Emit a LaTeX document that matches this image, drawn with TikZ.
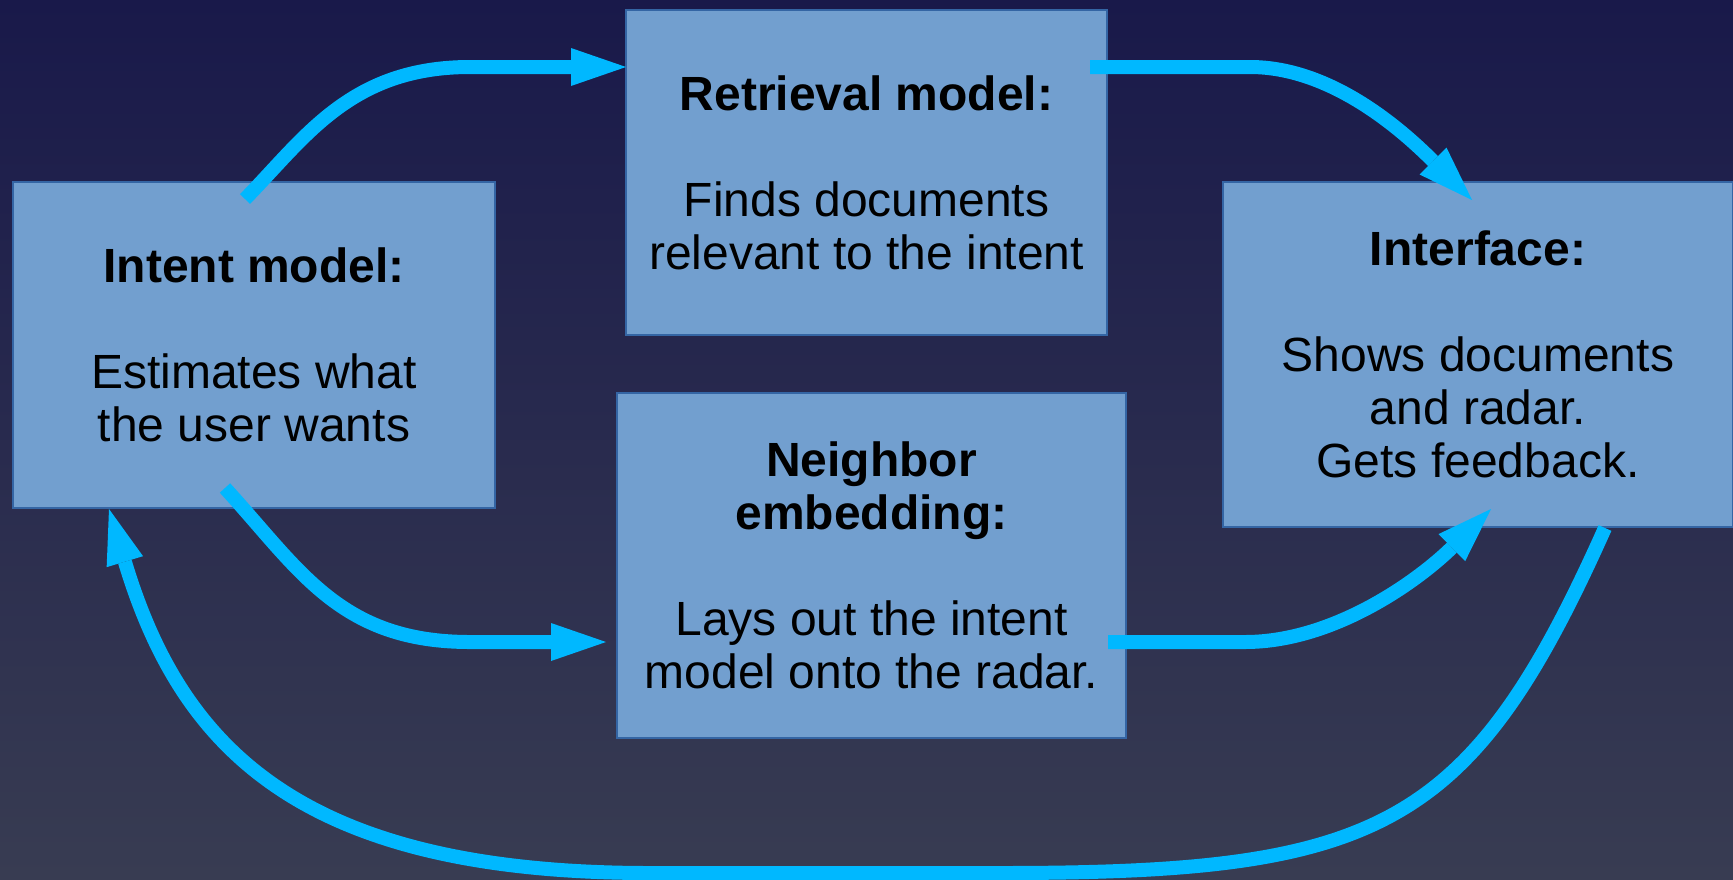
\documentclass[tikz,border=0pt]{standalone}
\usepackage{fontspec}
\setmainfont{Liberation Sans}
\usetikzlibrary{arrows.meta,calc}

\definecolor{skytop}{RGB}{25,25,74}
\definecolor{skybottom}{RGB}{56,60,82}
\definecolor{panelfill}{RGB}{114,159,207}
\definecolor{paneledge}{RGB}{52,101,164}
\definecolor{flow}{RGB}{0,184,255}

\tikzset{
  panel/.style={draw=paneledge, line width=0.8pt, fill=panelfill,
    inner sep=0pt, outer sep=0pt, align=center,
    font=\fontsize{24}{26.5}\selectfont},
  flowarrow/.style={draw=flow, line width=7pt,
    -{Triangle[length=27.5pt, width=19pt, line width=0pt]}}
}

\begin{document}
\begin{tikzpicture}[x=0.5pt, y=-0.5pt]
  % canvas with a vertical gradient
  \useasboundingbox (0,0) rectangle (1733,879);
  \shade[top color=skytop, bottom color=skybottom] (0,0) rectangle (1733,879);

  % the four stages
  \node[panel, minimum width=241pt, minimum height=163pt] (intent) at (254,345)
    {\textbf{Intent model:}\\[26.5pt]Estimates what\\the user wants};
  \node[panel, minimum width=240.5pt, minimum height=162.5pt] (retrieval) at (866.5,172.5)
    {\textbf{Retrieval model:}\\[26.5pt]Finds documents\\relevant to the intent};
  \node[panel, minimum width=254.5pt, minimum height=172.5pt] (neighbor) at (871.5,565.5)
    {\textbf{Neighbor}\\\textbf{embedding:}\\[26.5pt]Lays out the intent\\model onto the radar.};
  \node[panel, minimum width=255pt, minimum height=172.5pt] (interface) at (1478,354.5)
    {\textbf{Interface:}\\[26.5pt]Shows documents\\and radar.\\Gets feedback.};

  % flow between the stages
  \draw[flowarrow] ($(intent.north)+(-9,17)$)
    .. controls (305,138) and (350,67) .. (470,67)
    -- ($(retrieval.north west)+(0,57)$);
  \draw[flowarrow] ($(retrieval.north east)+(-17,57)$) -- (1250,67)
    .. controls (1330,67) and (1400,128) .. ($(interface.north)+(-6,18)$);
  \draw[flowarrow] ($(intent.south)+(-29,-20)$)
    .. controls (300,570) and (340,642) .. (470,642)
    -- ($(neighbor.west)+(-11,76.5)$);
  \draw[flowarrow] ($(neighbor.east)+(-18,76.5)$) -- (1245,642)
    .. controls (1335,642) and (1420,579) .. ($(interface.south)+(13,-18)$);

  % feedback loop back to the intent model
  \draw[flowarrow] ($(interface.south)+(127,1)$)
    .. controls (1470,830) and (1380,873) .. (1000,873)
    -- (650,873)
    .. controls (300,873) and (181,748) .. ($(intent.south west)+(96,1)$);
\end{tikzpicture}
\end{document}
